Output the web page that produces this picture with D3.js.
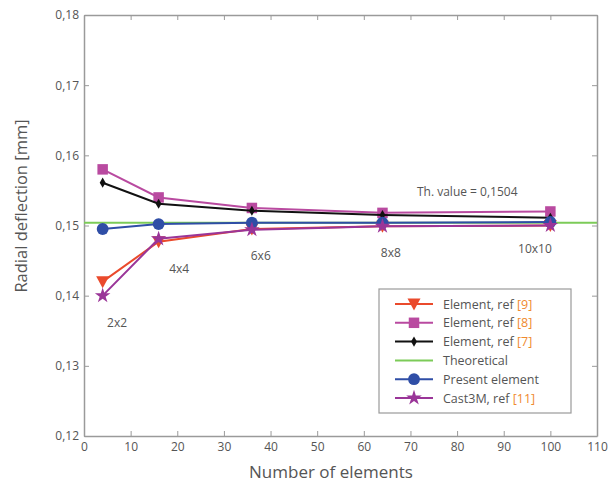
<!DOCTYPE html>
<html>
<head>
<meta charset="utf-8">
<script src="https://cdn.jsdelivr.net/npm/d3@7"></script>
<style>
  body { margin: 0; background: #fff; }
  svg { display: block; font-family: "Open Sans", "DejaVu Sans", sans-serif; }
</style>
</head>
<body>
<svg id="chart" width="610" height="486"></svg>
<script>
// Number of elements in the mesh
const elements = [4, 16, 36, 64, 100];
const meshLabels = ["2x2", "4x4", "6x6", "8x8", "10x10"];

// Radial deflection [mm] for each model
const ref9 = [0.1420, 0.1477, 0.1495, 0.1499, 0.1500];
const ref8 = [0.1580, 0.1540, 0.1525, 0.1518, 0.1520];
const ref7 = [0.1561, 0.1531, 0.1521, 0.1515, 0.1511];
const present = [0.1495, 0.1502, 0.1504, 0.1504, 0.1505];
const cast3m = [0.1400, 0.1481, 0.1494, 0.1499, 0.1500];
const theoretical = 0.1504;

const xTicks = [0, 10, 20, 30, 40, 50, 60, 70, 80, 90, 100, 110];
const yTicks = [0.12, 0.13, 0.14, 0.15, 0.16, 0.17, 0.18];

const svg = d3.select("#chart");
const plotLeft = 84, plotRight = 597, plotTop = 15, plotBottom = 436;

const x = d3.scaleLinear().domain([0, 110]).range([plotLeft, plotRight]);
const y = d3.scaleLinear().domain([0.12, 0.18]).range([plotBottom, plotTop]);

const frameColor = "#9a9a9a";
const textColor = "#555";
const fmt = d => d3.format(".2f")(d).replace(".", ",");

// Axes with inward ticks on all four sides
const axes = [
  { g: d3.axisBottom(x).tickValues(xTicks).tickSizeInner(-5).tickSizeOuter(0).tickPadding(6).tickFormat(d3.format("d")), t: `translate(0,${plotBottom})` },
  { g: d3.axisTop(x).tickValues(xTicks).tickSizeInner(-5).tickSizeOuter(0).tickFormat(""), t: `translate(0,${plotTop})` },
  { g: d3.axisLeft(y).tickValues(yTicks).tickSizeInner(-5).tickSizeOuter(0).tickPadding(5).tickFormat(fmt), t: `translate(${plotLeft},0)` },
  { g: d3.axisRight(y).tickValues(yTicks).tickSizeInner(-5).tickSizeOuter(0).tickFormat(""), t: `translate(${plotRight},0)` }
];
axes.forEach(a => {
  const g = svg.append("g").attr("transform", a.t).call(a.g);
  g.select(".domain").attr("stroke", frameColor).attr("stroke-width", 1.5);
  g.selectAll(".tick line").attr("stroke", frameColor);
  g.selectAll(".tick text").attr("fill", textColor).attr("font-size", 12).attr("font-family", "Open Sans, DejaVu Sans, sans-serif");
});

// Axis titles
svg.append("text")
  .attr("x", 331).attr("y", 478)
  .attr("text-anchor", "middle").attr("font-size", 17).attr("fill", textColor)
  .text("Number of elements");
svg.append("text")
  .attr("transform", "translate(27,206) rotate(-90)")
  .attr("text-anchor", "middle").attr("font-size", 16.5).attr("fill", textColor)
  .text("Radial deflection [mm]");

// Marker shapes
const sym = (type, size) => d3.symbol().type(type).size(size)();
const triDown = "M-6.5,-5.5L6.5,-5.5L0,6.5Z";

const series = [
  { name: "Element, ref ", ref: "[9]", data: ref9, color: "#ea4a2c", marker: triDown },
  { name: "Element, ref ", ref: "[8]", data: ref8, color: "#b94aa0", marker: sym(d3.symbolSquare, 110) },
  { name: "Element, ref ", ref: "[7]", data: ref7, color: "#111111", marker: sym(d3.symbolDiamond, 30) },
  { name: "Theoretical", ref: "", data: null, color: "#7ccb58", marker: null },
  { name: "Present element", ref: "", data: present, color: "#2f4ea6", marker: sym(d3.symbolCircle, 110) },
  { name: "Cast3M, ref ", ref: "[11]", data: cast3m, color: "#9a3598", marker: sym(d3.symbolStar, 75) }
];

const line = d3.line().x(d => x(d[0])).y(d => y(d[1]));

series.forEach(s => {
  if (!s.data) {
    svg.append("line")
      .attr("x1", x(0)).attr("x2", x(110))
      .attr("y1", y(theoretical)).attr("y2", y(theoretical))
      .attr("stroke", s.color).attr("stroke-width", 2);
    return;
  }
  const pts = elements.map((e, i) => [e, s.data[i]]);
  svg.append("path").datum(pts)
    .attr("d", line).attr("fill", "none")
    .attr("stroke", s.color).attr("stroke-width", 2);
  svg.selectAll(null).data(pts).enter().append("path")
    .attr("d", s.marker)
    .attr("transform", d => `translate(${x(d[0])},${y(d[1])})`)
    .attr("fill", s.color);
});

// Mesh annotations, anchored in data space: [centre x, baseline y]
const meshAnchor = [[7.1, 0.1355], [20.4, 0.1432], [37.9, 0.1451], [65.8, 0.1455], [96.7, 0.1461]];
meshLabels.forEach((m, i) => {
  svg.append("text")
    .attr("x", x(meshAnchor[i][0]))
    .attr("y", y(meshAnchor[i][1]))
    .attr("text-anchor", "middle")
    .attr("font-size", 12).attr("fill", textColor)
    .text(m);
});

svg.append("text")
  .attr("x", x(71.4)).attr("y", y(0.1542))
  .attr("font-size", 12).attr("fill", textColor)
  .text("Th. value = 0,1504");

// Legend
const lg = svg.append("g");
lg.append("rect")
  .attr("x", 379).attr("y", 289).attr("width", 192).attr("height", 124)
  .attr("fill", "#fff").attr("stroke", frameColor).attr("stroke-width", 1.2);
series.forEach((s, i) => {
  const ly = 304 + i * 18.8;
  lg.append("line").attr("x1", 395).attr("x2", 433).attr("y1", ly).attr("y2", ly)
    .attr("stroke", s.color).attr("stroke-width", 2);
  if (s.marker) {
    lg.append("path").attr("d", s.marker)
      .attr("transform", `translate(414,${ly})`).attr("fill", s.color);
  }
  const t = lg.append("text").attr("x", 443).attr("y", ly + 4.5)
    .attr("font-size", 12.5).attr("fill", textColor);
  t.append("tspan").text(s.name);
  if (s.ref) t.append("tspan").attr("fill", "#ef8a2e").text(s.ref);
});
</script>
</body>
</html>
